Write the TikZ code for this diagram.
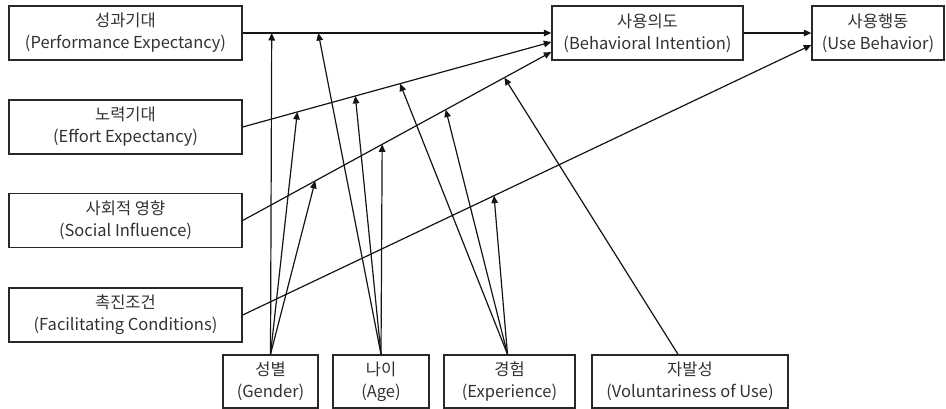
\documentclass[tikz,border=0pt]{standalone}
\usepackage{fontspec}
\setmainfont{Noto Sans CJK KR}
\usepackage{tikz}
\usetikzlibrary{arrows.meta, positioning}
\definecolor{utBorder}{RGB}{40,40,40}
\definecolor{utText}{RGB}{50,50,50}
\definecolor{utLine}{RGB}{20,20,20}

\begin{document}
\begin{tikzpicture}[x=1pt, y=-1pt,
    box/.style={draw=utBorder, line width=1.4pt, align=center, inner sep=0pt,
      minimum height=54pt, text=utText, font=\fontsize{16.5}{22}\selectfont},
    link/.style={utLine, line width=1.2pt, -{Triangle[length=7.5pt, width=6.5pt]}}]
        \useasboundingbox (0,0) rectangle (946,409);
        \node[box, minimum width=233pt] (pe) at (125.5,33) {성과기대\\(Performance Expectancy)};
        \node[box, minimum width=233pt] (ee) at (125.5,127) {노력기대\\(Effort Expectancy)};
        \node[box, minimum width=233pt] (si) at (125.5,220.5) {사회적 영향\\(Social Influence)};
        \node[box, minimum width=233pt] (fc) at (125.5,315) {촉진조건\\(Facilitating Conditions)};
        \node[box, minimum width=191pt] (bi) at (647.5,33) {사용의도\\(Behavioral Intention)};
        \node[box, minimum width=132pt] (ub) at (878,33) {사용행동\\(Use Behavior)};
        \node[box, minimum width=95pt, minimum height=53pt] (gen) at (270.5,381.5) {성별\\(Gender)};
        \node[box, minimum width=96pt, minimum height=53pt] (age) at (381,381.5) {나이\\(Age)};
        \node[box, minimum width=131pt, minimum height=53pt] (exp) at (509.5,381.5) {경험\\(Experience)};
        \node[box, minimum width=196pt, minimum height=53pt] (vol) at (690,381.5) {자발성\\(Voluntariness of Use)};
        \draw[link] (pe.east) -- coordinate[pos=0.094] (pe1) coordinate[pos=0.245] (pe2) (bi.west);
        \draw[link] (ee.east) -- coordinate[pos=0.177] (ee1) coordinate[pos=0.365] (ee2)
          coordinate[pos=0.51] (ee3) ([yshift=-9pt]bi.west);
        \draw[link] (si.east) -- coordinate[pos=0.235] (si1) coordinate[pos=0.452] (si2)
          coordinate[pos=0.658] (si3) coordinate[pos=0.848] (si4) ([yshift=-19pt]bi.west);
        \draw[link] (fc.east) -- coordinate[pos=0.442] (fc1) ([yshift=-12pt]ub.west);
        \draw[link] (bi.east) -- (ub.west);
        \foreach \t in {pe1, ee1, si1} \draw[link] (gen.north) -- (\t);
        \foreach \t in {pe2, ee2, si2} \draw[link] (age.north) -- (\t);
        \foreach \t in {ee3, si3, fc1} \draw[link] ([xshift=-2pt]exp.north) -- (\t);
        \draw[link] ([xshift=-12pt]vol.north) -- (si4);
      \end{tikzpicture}
\end{document}
